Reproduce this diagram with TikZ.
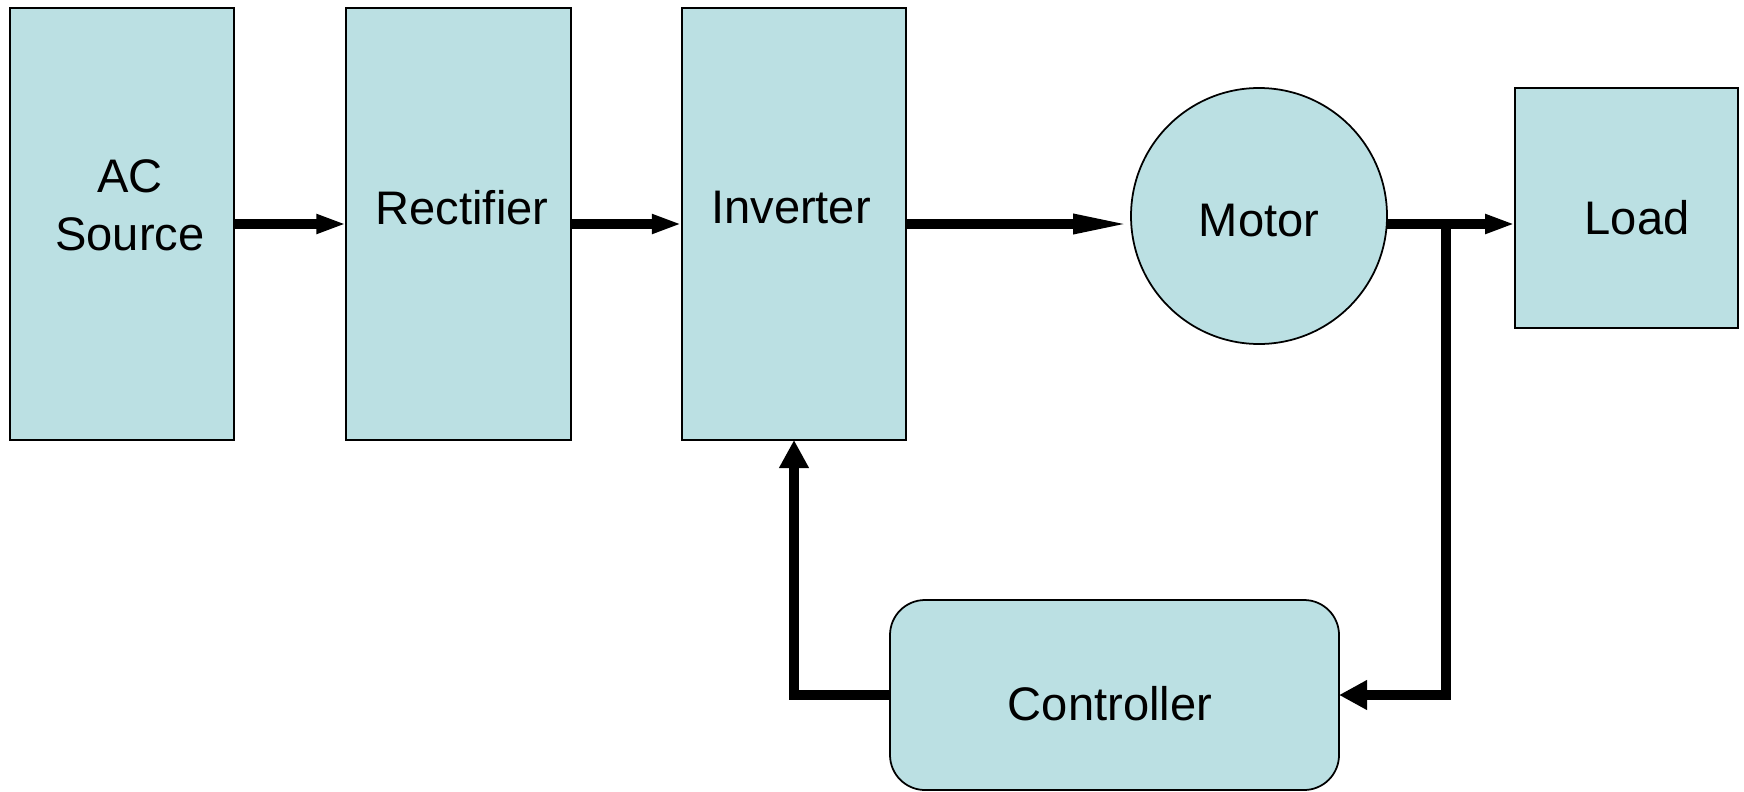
\documentclass[tikz,border=0pt]{standalone}
\usepackage{fontspec}
\setmainfont[Ligatures=CommonOff]{Liberation Sans}
\usetikzlibrary{arrows.meta, positioning, calc}
\definecolor{blockfill}{RGB}{187,224,227}

\begin{document}
\begin{tikzpicture}[line width=0.5pt,
    font=\fontsize{13.4}{16.4}\selectfont,
    part/.style={draw, fill=blockfill, inner sep=0pt, outer sep=0pt},
    block/.style={part, minimum width=2.245cm, minimum height=4.32cm},
    txt/.style={align=center, inner sep=0pt},
    flow/.style={line width=2.6pt, -{Triangle[length=0.30cm, width=0.18cm]}},
    longflow/.style={line width=2.6pt, -{Triangle[length=0.58cm, width=0.18cm]}},
    fback/.style={line width=2.6pt, -{Triangle[length=0.28cm, width=0.28cm]}}]
    \useasboundingbox (0,0) rectangle (17.44,-7.91);
    % Height of the power path
    \def\yline{-2.24}
    \def\xtap{14.46}

    % Draw the power stages
    \node[block] (ac) at (1.22,\yline) {};
    \node[block] (rect) at (4.585,\yline) {};
    \node[block] (inv) at (7.94,\yline) {};
    \node[part, circle, minimum size=2.56cm] (motor) at (12.59,-2.16) {};
    \node[part, minimum width=2.23cm, minimum height=2.40cm] (load) at (16.265,-2.08) {};

    % Draw the controller
    \node[part, rounded corners=0.35cm, minimum width=4.49cm, minimum height=1.90cm] (ctrl) at (11.145,-6.95) {};

    % Labels for the blocks
    \node[txt] (acT) at (1.30,-2.05) {AC\\Source};
    \node[txt] (rectT) at (4.62,-2.08) {Rectifier};
    \node[txt] (invT) at (7.91,-2.08) {Inverter};
    \node[txt] (motorT) at (12.59,-2.21) {Motor};
    \node[txt] (loadT) at (16.37,-2.175) {Load};
    \node[txt] (ctrlT) at (11.10,-7.04) {Controller};

    % Draw the power flow
    \draw[flow] (ac.east) -- (rect.west);
    \draw[flow] (rect.east) -- (inv.west);
    \draw[longflow] (inv.east) -- (motor.west |- inv.east);
    \draw[flow] (motor.east |- inv.east) -- (load.west |- inv.east);

    % Draw the feedback loop
    \coordinate (tap) at (\xtap,\yline);
    \draw[fback] (tap) |- (ctrl.east);
    \draw[fback] (ctrl.west) -| (inv.south);
\end{tikzpicture}
\end{document}
